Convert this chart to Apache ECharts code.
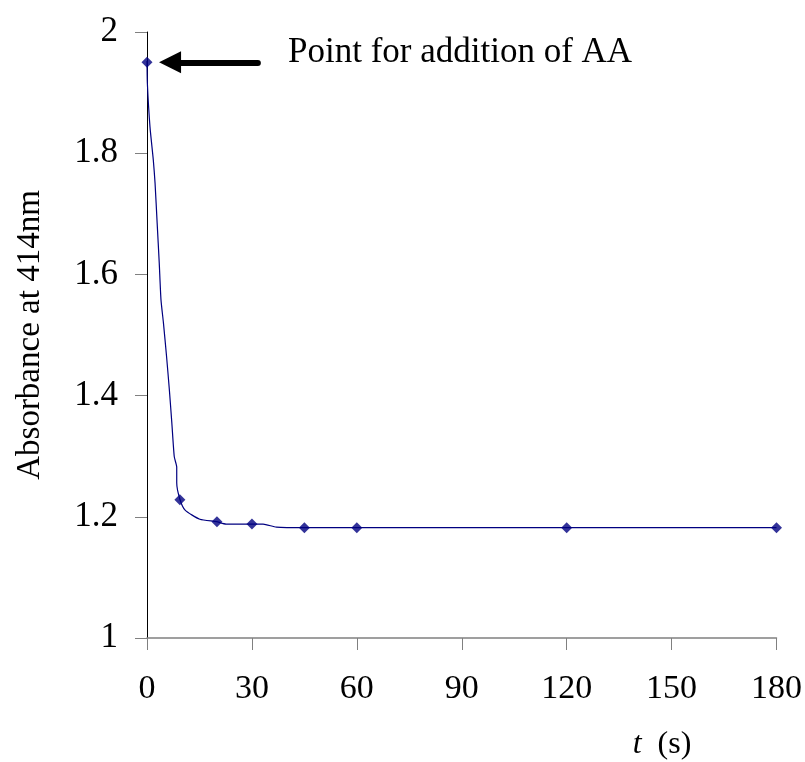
<!DOCTYPE html>
<html>
<head>
<meta charset="utf-8">
<script src="https://cdn.jsdelivr.net/npm/echarts@6/dist/echarts.min.js"></script>
<style>
html,body{margin:0;padding:0;background:#fff;}
#chart{width:805px;height:762px;}
</style>
</head>
<body>
<div id="chart"></div>
<script>
// Data
var curveT = [0, 0.1, 0.86, 1.8, 2.3, 2.9, 3.5, 4.0, 4.7, 5.6, 6.4, 7.1, 7.8, 8.5, 8.5, 9.4, 10.9, 15.1, 19.9, 22.6, 29.6, 33.2, 37, 45, 60, 120, 180];
var curveA = [1.952, 1.916, 1.843, 1.789, 1.751, 1.685, 1.619, 1.558, 1.520, 1.464, 1.409, 1.355, 1.299, 1.282, 1.256, 1.229, 1.211, 1.196, 1.192, 1.188, 1.188, 1.188, 1.183, 1.182, 1.182, 1.182, 1.182];
var pointT = [0, 9.4, 20, 30, 45, 60, 120, 180];
var pointA = [1.95, 1.228, 1.192, 1.188, 1.182, 1.182, 1.182, 1.182];
var arrowFrom = [31.7, 1.95];
var arrowTo = [6.6, 1.95];
var yTitle = 'Absorbance at 414nm';
var annotation = 'Point for addition of AA';

var font = 'Liberation Serif, Times New Roman, serif';
var chart = echarts.init(document.getElementById('chart'), null, {renderer: 'canvas'});

var curve = curveT.map(function (t, i) { return [t, curveA[i]]; });
var pts = pointT.map(function (t, i) { return [t, pointA[i]]; });

chart.setOption({
  animation: false,
  backgroundColor: '#fff',
  grid: {left: 147, right: 28, top: 32, bottom: 124, containLabel: false},
  xAxis: {
    type: 'value', min: 0, max: 180, interval: 30,
    axisLine: {show: true, onZero: false, lineStyle: {color: '#808080', width: 1.5}},
    axisTick: {show: true, inside: false, length: 12, lineStyle: {color: '#808080', width: 1}},
    axisLabel: {margin: 34, fontFamily: font, fontSize: 34, color: '#000'},
    splitLine: {show: false}
  },
  yAxis: {
    type: 'value', min: 1, max: 2, interval: 0.2,
    axisLine: {show: true, onZero: false, lineStyle: {color: '#000', width: 1}},
    axisTick: {show: true, inside: false, length: 12, lineStyle: {color: '#808080', width: 1}},
    axisLabel: {margin: 29, fontFamily: font, fontSize: 35, color: '#000'},
    splitLine: {show: false}
  },
  graphic: [
    {type: 'text', x: 30, y: 335, rotation: Math.PI / 2,
     style: {text: yTitle, fontFamily: font, fontSize: 33, fill: '#000', align: 'center', verticalAlign: 'middle'}},
    {type: 'text', x: 288, y: 53,
     style: {text: annotation, fontFamily: font, fontSize: 35, fill: '#000', align: 'left', verticalAlign: 'middle'}},
    {type: 'text', x: 662, y: 745,
     style: {text: '{i|t}  (s)', fontFamily: font, fontSize: 32, fill: '#000', align: 'center', verticalAlign: 'middle',
             rich: {i: {fontFamily: font, fontStyle: 'italic', fontSize: 32, fill: '#000'}}}}
  ],
  series: [
    {
      type: 'line', data: curve, showSymbol: false, smooth: 0.2, z: 2,
      lineStyle: {color: '#000080', width: 1.2},
      markLine: {
        silent: true, symbol: ['none', 'triangle'], symbolSize: [22, 22],
        lineStyle: {color: '#000', width: 6, type: 'solid', cap: 'round'},
        label: {show: false},
        data: [[{coord: arrowFrom}, {coord: arrowTo}]]
      }
    },
    {
      type: 'scatter', data: pts, symbol: 'diamond', symbolSize: 11, z: 3,
      itemStyle: {color: '#000080'}
    }
  ]
});
</script>
</body>
</html>
